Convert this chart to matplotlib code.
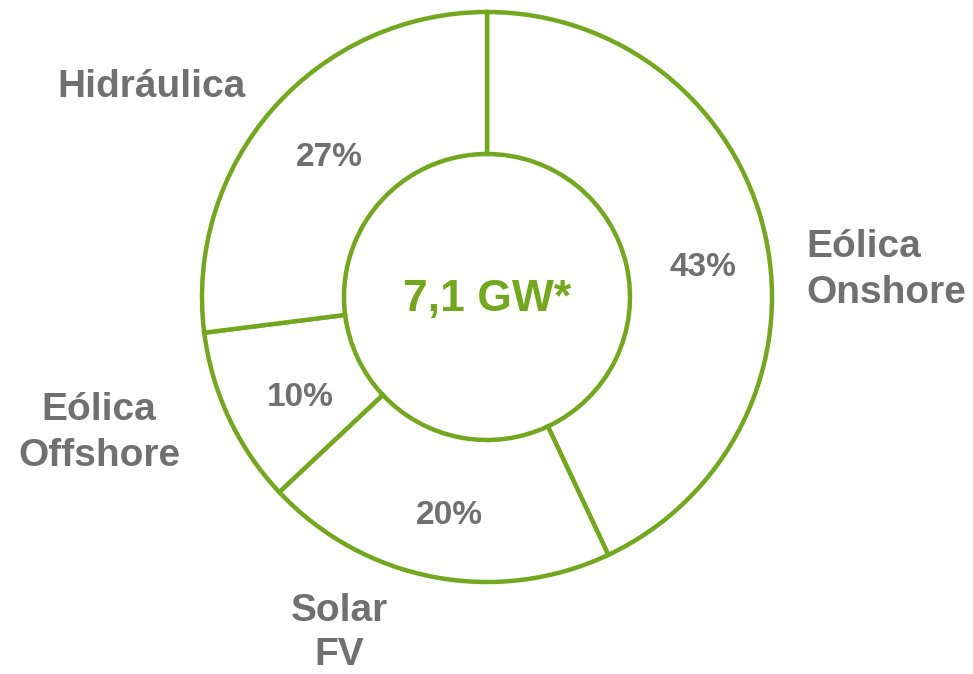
import matplotlib
matplotlib.use("Agg")
import matplotlib.pyplot as plt

categories = ["Eólica\nOnshore", "Solar\nFV", "Eólica\nOffshore", "Hidráulica"]
values = [43, 20, 10, 27]
pct_labels = ["43%", "20%", "10%", "27%"]
total_label = "7,1 GW*"

GREEN = "#72A71F"
GRAY = "#707070"
plt.rcParams['font.family'] = ['Liberation Sans', 'DejaVu Sans']

W, H = 973, 674
fig = plt.figure(figsize=(W / 100, H / 100), dpi=100)
ax = fig.add_axes([0, 0, 1, 1])

cx, cy = 487, H - 297
R = 285
ax.pie(values, startangle=90, counterclock=False, radius=R, center=(cx, cy),
       wedgeprops=dict(width=R - 143, facecolor="white", edgecolor=GREEN, linewidth=3.2))

ax.set_xlim(0, W)
ax.set_ylim(0, H)
ax.set_aspect("equal")
ax.axis("off")

# percentage labels (positions in pixel coords, top-down y)
pct_pos = [(703, 267), (449, 516), (300, 398), (329, 158)]
for (x, y), t in zip(pct_pos, pct_labels):
    ax.text(x, H - y, t, ha="center", va="center", fontsize=24, fontweight="bold", color=GRAY)

# category labels
LS = 1.35
ax.text(806, H - 270, categories[0], ha="left", va="center", fontsize=28, fontweight="bold",
        color=GRAY, multialignment="left", linespacing=LS)
ax.text(339, H - 633, categories[1], ha="center", va="center", fontsize=28, fontweight="bold",
        color=GRAY, multialignment="center", linespacing=1.3)
ax.text(99, H - 433, categories[2], ha="center", va="center", fontsize=28, fontweight="bold",
        color=GRAY, multialignment="center", linespacing=LS)
ax.text(152, H - 87, categories[3], ha="center", va="center", fontsize=28, fontweight="bold",
        color=GRAY)

ax.text(cx, H - 300, total_label, ha="center", va="center", fontsize=32, fontweight="bold", color=GREEN)

fig.savefig("out.png", dpi=100, facecolor="white")
